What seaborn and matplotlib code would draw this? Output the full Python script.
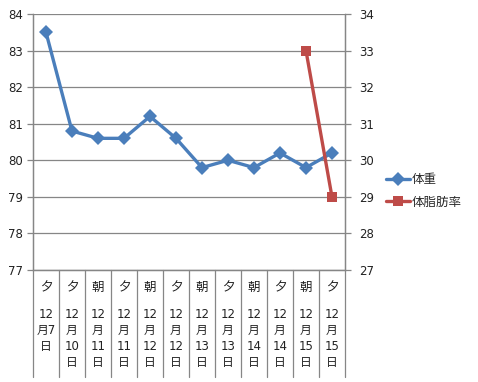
import matplotlib
matplotlib.use("Agg")
import matplotlib.pyplot as plt
from matplotlib.lines import Line2D
import matplotlib.transforms as mtransforms
import seaborn as sns
import numpy as np
import pandas as pd

times = ['夕', '夕', '朝', '夕', '朝', '夕', '朝', '夕', '朝', '夕', '朝', '夕']
dates = ['12月7日', '12月10日', '12月11日', '12月11日', '12月12日', '12月12日',
         '12月13日', '12月13日', '12月14日', '12月14日', '12月15日', '12月15日']
weight = [83.5, 80.8, 80.6, 80.6, 81.2, 80.6, 79.8, 80.0, 79.8, 80.2, 79.8, 80.2]
bodyfat = [np.nan] * 10 + [33.0, 29.0]

sns.set_style("white")
plt.rcParams['font.family'] = ['DejaVu Sans', 'Noto Sans CJK JP']

BLUE = '#4A7EBB'
RED = '#BE4B48'
GRAY = '#868686'

fig = plt.figure(figsize=(4.78, 3.82), dpi=100)
ax = fig.add_axes([0.069, 0.2932, 0.6527, 0.6702])
ax2 = ax.twinx()

pos = np.arange(len(times))
df = pd.DataFrame({'pos': pos, 'weight': weight, 'bodyfat': bodyfat})

sns.lineplot(data=df, x='pos', y='weight', ax=ax, color=BLUE, lw=2.4,
             marker='D', markersize=7, markeredgewidth=0, label='体重', legend=False)
sns.lineplot(data=df.dropna(), x='pos', y='bodyfat', ax=ax2, color=RED, lw=2.4,
             marker='s', markersize=7.5, markeredgewidth=0, label='体脂肪率', legend=False)

ax.set_xlim(-0.5, len(times) - 0.5)
ax.set_ylim(77, 84)
ax2.set_ylim(27, 34)
ax.set_yticks(range(77, 85))
ax2.set_yticks(range(27, 35))
ax.set_xticks([])
ax.set_xlabel('')
ax.set_ylabel('')
ax2.set_ylabel('')

ax.grid(axis='y', color=GRAY, lw=0.9)
ax.set_axisbelow(True)
for a in (ax, ax2):
    for s in a.spines.values():
        s.set_color(GRAY)
        s.set_linewidth(0.9)
    a.spines['top'].set_visible(False)
ax.tick_params(axis='y', which='both', left=True, length=4, width=0.9, color=GRAY,
               labelsize=8.5, pad=3, labelcolor='#222222')
ax2.tick_params(axis='y', which='both', right=True, length=4, width=0.9, color=GRAY,
                labelsize=8.5, pad=6, labelcolor='#222222')

# category axis labels
trans = mtransforms.blended_transform_factory(ax.transData, ax.transAxes)
for i, (t, d) in enumerate(zip(times, dates)):
    m, rest = d.split('月')
    day = rest.replace('日', '')
    if len(day) == 1:
        wrapped = f"{m}\n月{day}\n日"
    else:
        wrapped = f"{m}\n月\n{day}\n日"
    ax.text(i, -0.07, t, transform=trans, ha='center', va='center', fontsize=9,
            color='#222222')
    ax.text(i, -0.148, wrapped, transform=trans, ha='center', va='top', fontsize=8.5,
            color='#222222', linespacing=1.3)
for k in range(len(times) + 1):
    ax.plot([k - 0.5, k - 0.5], [0, -0.418], transform=trans, color=GRAY, lw=0.9,
            clip_on=False)

handles = [Line2D([], [], color=BLUE, lw=2.4, marker='D', markersize=7, markeredgewidth=0),
           Line2D([], [], color=RED, lw=2.4, marker='s', markersize=7.5, markeredgewidth=0)]
fig.legend(handles, ['体重', '体脂肪率'], loc='center left', bbox_to_anchor=(0.785, 0.5),
           frameon=False, fontsize=9, handlelength=1.9, handletextpad=0.1,
           labelspacing=0.75)

fig.savefig('out.png', dpi=100)
